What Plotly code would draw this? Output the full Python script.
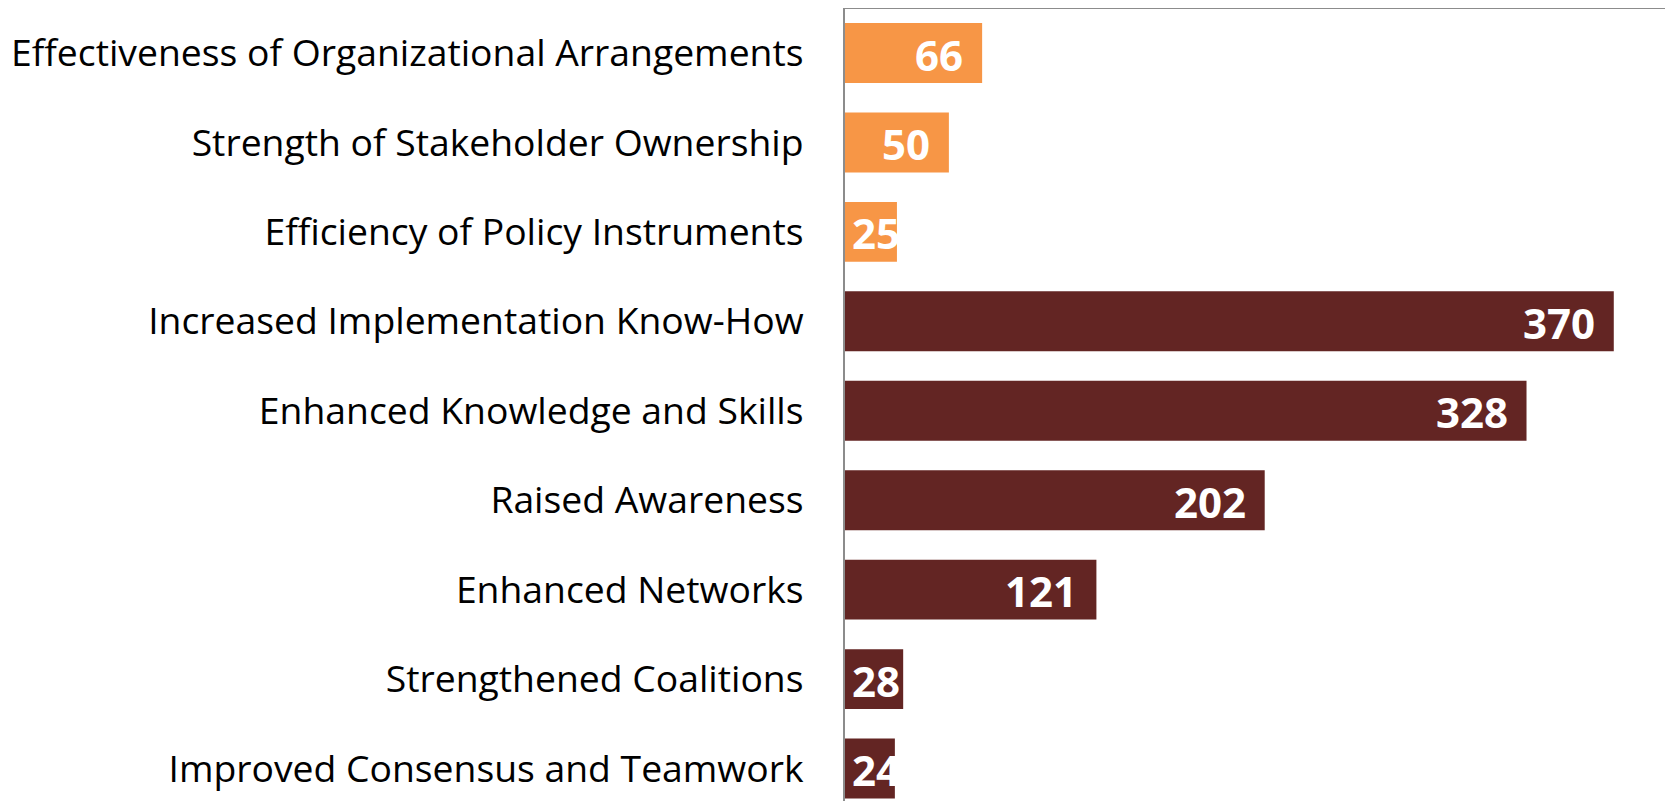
import plotly.graph_objects as go

categories = [
    "Effectiveness of Organizational Arrangements",
    "Strength of Stakeholder Ownership",
    "Efficiency of Policy Instruments",
    "Increased Implementation Know-How",
    "Enhanced Knowledge and Skills",
    "Raised Awareness",
    "Enhanced Networks",
    "Strengthened Coalitions",
    "Improved Consensus and Teamwork",
]
values = [66, 50, 25, 370, 328, 202, 121, 28, 24]
groups = ["outcome", "outcome", "outcome",
          "capacity", "capacity", "capacity", "capacity", "capacity", "capacity"]

group_colors = {"outcome": "#F79646", "capacity": "#632523"}
LABEL_FONT = "Open Sans"

fig = go.Figure()
fig.add_trace(go.Bar(
    y=categories,
    x=values,
    orientation="h",
    marker=dict(color=[group_colors[g] for g in groups], line=dict(width=0)),
    hoverinfo="x+y",
))

for cat, v in zip(categories, values):
    if v < 40:
        fig.add_annotation(x=0, y=cat, text=f"<b>{v}</b>", showarrow=False,
                           xanchor="left", xshift=5, yshift=-1,
                           font=dict(family=LABEL_FONT, size=42, color="white"))
    else:
        fig.add_annotation(x=v, y=cat, text=f"<b>{v}</b>", showarrow=False,
                           xanchor="right", xshift=-17, yshift=-1,
                           font=dict(family=LABEL_FONT, size=42, color="white"))

fig.update_layout(
    width=1665, height=793,
    margin=dict(l=837, r=0, t=1, b=0, autoexpand=False),
    paper_bgcolor="white", plot_bgcolor="white",
    bargap=0.33,
    showlegend=False,
    font=dict(family=LABEL_FONT, color="black"),
)
fig.update_xaxes(range=[0, 398.5], side="top", showline=True, linecolor="#8c8c8c",
                 linewidth=2, showgrid=False, zeroline=False, showticklabels=False,
                 ticks="", automargin=False)
fig.update_yaxes(type="category", range=[8.363, -0.492], showline=True,
                 linecolor="#8c8c8c", linewidth=2, showgrid=False, ticks="",
                 ticklabelstandoff=32, automargin=False,
                 tickfont=dict(family=LABEL_FONT, size=37.3, color="black"))

fig.write_html("out.html")
